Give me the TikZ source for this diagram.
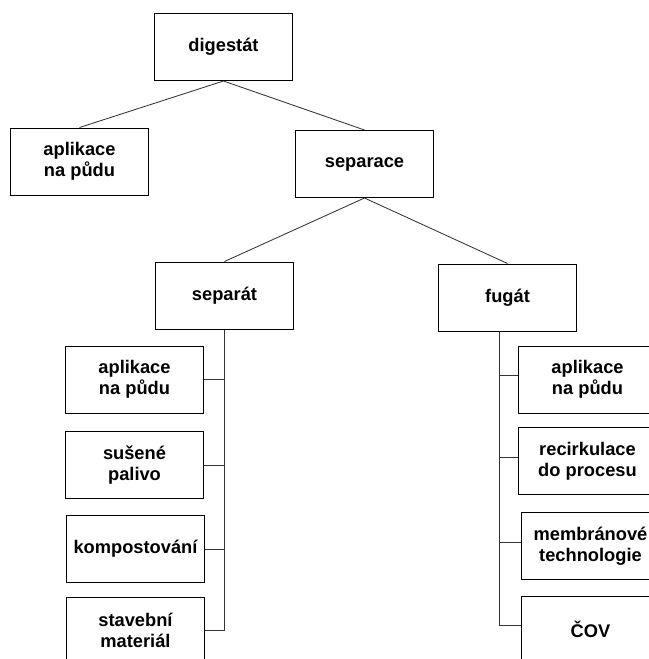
\documentclass[tikz,border=0pt]{standalone}
\usepackage{fontspec}
\setmainfont{Liberation Sans}
\usepackage{tikz}
\usetikzlibrary{positioning}

\begin{document}
\begin{tikzpicture}[
x=0.025cm, y=-0.025cm,
square/.style={rectangle, draw=black, fill=white, line width=0.7pt, align=center, inner sep=2pt, minimum width=3.425cm, minimum height=1.675cm, font=\fontsize{13}{15}\selectfont\bfseries},
tree_line/.style={draw=black!80, line width=0.6pt}
]
\useasboundingbox (0,0) rectangle (649,659);
\clip (0,0) rectangle (649,659);

% \node[square](name_of_node) at (x,y) {node_text}
\node[square](digestat) at (223.5,47) {digestát};

\node[square](aplikace_top) at (79.5,161.5) {aplikace\\na půdu};
\node[square](separace) at (364.5,164) {separace};

\node[square](separat) at (224.5,295.5) {separát};
\node[square](fugat) at (507.5,297.5) {fugát};

% separat branch
\node[square](separat_aplikace) at (134.5,379.5) {aplikace\\na půdu};
\node[square](separat_palivo) at (134.5,465) {sušené\\palivo};
\node[square](separat_kompost) at (135.5,549) {kompostování};
\node[square](separat_material) at (135.5,630.5) {stavební\\materiál};

% fugat branch
\node[square](fugat_aplikace) at (587.5,379.5) {aplikace\\na půdu};
\node[square](fugat_recirkulace) at (587.5,461) {recirkulace\\do procesu};
\node[square](fugat_membrany) at (590.5,546) {membránové\\technologie};
\node[square](fugat_cov) at (590.5,629.5) {ČOV};

\coordinate (fugat_stem) at ([xshift=-0.21cm]fugat.south);

% \draw[tree_line](name_of_node.direction) -- (name_of_node.direction)
\draw[tree_line](digestat.south) -- (aplikace_top.north);
\draw[tree_line](digestat.south) -- (separace.north);

\draw[tree_line](separace.south) -- (separat.north);
\draw[tree_line](separace.south) -- (fugat.north);

\draw[tree_line](separat.south) |- (separat_aplikace.east);
\draw[tree_line](separat.south) |- (separat_palivo.east);
\draw[tree_line](separat.south) |- (separat_kompost.east);
\draw[tree_line](separat.south) |- (separat_material.east);

\draw[tree_line](fugat_stem) |- ([yshift=0.1cm]fugat_aplikace.west);
\draw[tree_line](fugat_stem) |- ([yshift=0.1cm]fugat_recirkulace.west);
\draw[tree_line](fugat_stem) |- ([yshift=0.1cm]fugat_membrany.west);
\draw[tree_line](fugat_stem) |- ([yshift=0.1cm]fugat_cov.west);

\end{tikzpicture}
\end{document}
